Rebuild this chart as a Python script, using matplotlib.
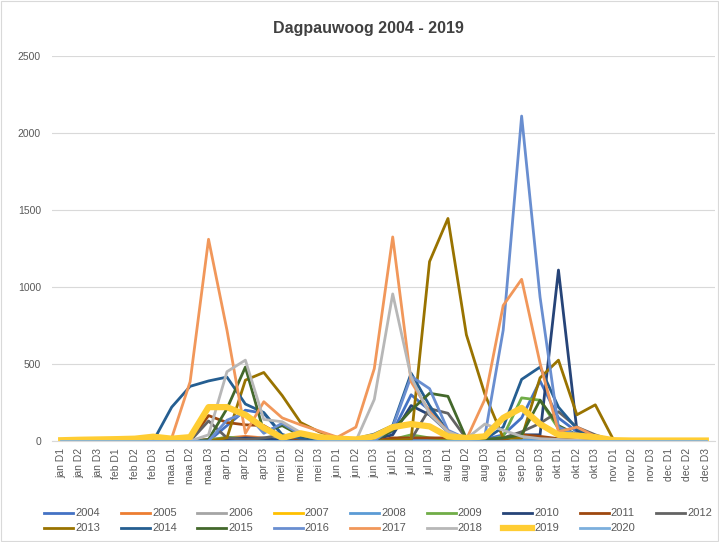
import matplotlib.pyplot as plt
from matplotlib.patches import Rectangle

plt.rcParams['font.family'] = ['Liberation Sans', 'DejaVu Sans']

# categories: three decades per month
months = ['jan', 'feb', 'maa', 'apr', 'mei', 'jun', 'jul', 'aug', 'sep', 'okt', 'nov', 'dec']
categories = [m + ' D' + str(d) for m in months for d in (1, 2, 3)]

#           jan       feb       maa            apr            mei           jun           jul             aug            sep             okt           nov      dec
y2004 = [0, 0, 0, 0, 0, 0, 0, 0, 0, 100, 200, 180, 40, 15, 5, 0, 0, 20, 60, 300, 200, 60, 10, 10, 40, 150, 390, 150, 60, 20, 0, 0, 0, 0, 0, 0]
y2005 = [0, 0, 0, 0, 0, 0, 0, 0, 10, 20, 30, 20, 10, 5, 0, 0, 0, 0, 10, 20, 15, 10, 5, 0, 10, 20, 20, 10, 5, 0, 0, 0, 0, 0, 0, 0]
y2006 = [0, 0, 0, 0, 0, 0, 0, 0, 5, 20, 15, 20, 10, 5, 0, 0, 0, 0, 5, 10, 10, 5, 0, 0, 5, 10, 10, 5, 0, 0, 0, 0, 0, 0, 0, 0]
y2007 = [0, 0, 0, 0, 0, 0, 0, 0, 5, 10, 10, 5, 5, 0, 0, 0, 0, 0, 5, 10, 5, 5, 0, 0, 5, 5, 5, 5, 0, 0, 0, 0, 0, 0, 0, 0]
y2008 = [0, 0, 0, 0, 0, 0, 0, 0, 0, 5, 5, 5, 0, 0, 0, 0, 0, 0, 0, 5, 5, 0, 0, 0, 0, 5, 5, 0, 0, 0, 0, 0, 0, 0, 0, 0]
y2009 = [0, 0, 0, 0, 0, 0, 0, 0, 5, 25, 15, 10, 5, 0, 0, 0, 0, 0, 10, 40, 20, 10, 5, 0, 30, 280, 265, 80, 30, 10, 0, 0, 0, 0, 0, 0]
y2010 = [0, 0, 0, 0, 0, 0, 0, 0, 0, 10, 20, 15, 5, 0, 0, 0, 0, 10, 40, 230, 170, 60, 0, 5, 10, 40, 40, 1110, 70, 20, 0, 0, 0, 0, 0, 0]
y2011 = [0, 0, 0, 0, 0, 0, 0, 0, 165, 120, 105, 100, 30, 10, 0, 0, 0, 0, 20, 20, 20, 20, 10, 5, 10, 40, 30, 15, 5, 0, 0, 0, 0, 0, 0, 0]
y2012 = [0, 0, 0, 0, 0, 0, 0, 0, 130, 20, 10, 20, 40, 15, 5, 0, 0, 0, 0, 10, 210, 180, 15, 10, 20, 60, 115, 190, 90, 40, 0, 0, 0, 0, 0, 0]
y2013 = [0, 0, 0, 0, 0, 0, 0, 0, 0, 20, 395, 445, 295, 120, 60, 20, 0, 0, 5, 10, 1165, 1445, 690, 305, 20, 20, 410, 525, 170, 235, 5, 0, 0, 0, 0, 0]
y2014 = [0, 0, 0, 0, 0, 0, 220, 355, 390, 415, 240, 185, 40, 20, 10, 5, 15, 45, 100, 440, 230, 60, 10, 10, 90, 400, 480, 220, 80, 20, 0, 0, 0, 0, 0, 0]
y2015 = [0, 0, 0, 0, 0, 0, 0, 0, 10, 210, 480, 60, 100, 35, 10, 0, 0, 0, 70, 200, 310, 290, 15, 10, 20, 40, 265, 100, 40, 10, 0, 0, 0, 0, 0, 0]
y2016 = [0, 0, 0, 0, 0, 0, 0, 0, 0, 135, 185, 50, 115, 40, 10, 0, 0, 0, 90, 420, 340, 70, 15, 30, 720, 2110, 935, 90, 40, 10, 0, 0, 0, 0, 0, 0]
y2017 = [0, 0, 0, 0, 0, 0, 20, 385, 1310, 720, 50, 255, 150, 105, 65, 25, 90, 470, 1325, 385, 190, 60, 10, 270, 880, 1050, 505, 60, 90, 30, 0, 0, 0, 0, 0, 0]
y2018 = [0, 0, 0, 0, 0, 0, 0, 0, 40, 450, 525, 140, 125, 55, 20, 0, 0, 270, 955, 415, 175, 60, 15, 110, 70, 30, 15, 10, 5, 0, 0, 0, 0, 0, 0, 0]
y2019 = [5, 8, 10, 12, 15, 28, 15, 25, 220, 220, 170, 85, 20, 50, 25, 15, 10, 30, 90, 110, 95, 30, 20, 30, 150, 215, 110, 40, 35, 25, 5, 3, 3, 3, 3, 3]
y2020 = [0] * 36

years = ['2004', '2005', '2006', '2007', '2008', '2009', '2010', '2011', '2012',
         '2013', '2014', '2015', '2016', '2017', '2018', '2019', '2020']
series = [y2004, y2005, y2006, y2007, y2008, y2009, y2010, y2011, y2012,
          y2013, y2014, y2015, y2016, y2017, y2018, y2019, y2020]
colors = ['#4472C4', '#ED7D31', '#A5A5A5', '#FFC000', '#5B9BD5', '#70AD47', '#264478', '#9E480E', '#636363',
          '#997300', '#255E91', '#43682B', '#698ED0', '#F1975A', '#B7B7B7', '#FFCD33', '#7CAFDD']

fig = plt.figure(figsize=(7.19, 5.42), dpi=100)
ax = fig.add_axes([52 / 719, 1 - 441 / 542, 663 / 719, 385 / 542])

x = list(range(len(categories)))
for year, vals, col in zip(years, series, colors):
    lw = 4.5 if year == '2019' else 2.0
    ax.plot(x, vals, color=col, linewidth=lw, label=year, solid_joinstyle='round')

ax.set_xlim(-0.5, len(categories) - 0.5)
ax.set_ylim(0, 2500)
ax.set_yticks([0, 500, 1000, 1500, 2000, 2500])
ax.set_xticks(x)
ax.set_xticklabels(categories, rotation=90)
ax.tick_params(axis='both', length=0, labelsize=7.5, labelcolor='#595959')
ax.tick_params(axis='x', pad=5)
ax.tick_params(axis='y', pad=8)
ax.grid(axis='y', color='#D9D9D9', linewidth=0.8)
ax.set_axisbelow(True)
for side in ['top', 'right', 'left']:
    ax.spines[side].set_visible(False)
ax.spines['bottom'].set_color('#D9D9D9')

fig.text(0.512, 1 - 28 / 542, 'Dagpauwoog 2004 - 2019', ha='center', va='center',
         fontsize=11.5, fontweight='bold', color='#404040')

# legend is filled column by column, so reorder to read row by row (9 per row)
handles, labels = ax.get_legend_handles_labels()
order = []
for c in range(9):
    order.append(c)
    if c + 9 < len(handles):
        order.append(c + 9)
fig.legend([handles[i] for i in order], [labels[i] for i in order], ncol=9, loc='upper left',
           bbox_to_anchor=(40 / 719, 1 - 504 / 542),
           frameon=False, fontsize=8, labelcolor='#595959', handlelength=2.6,
           handletextpad=0.2, columnspacing=1.85, labelspacing=0.45, borderaxespad=0)

fig.add_artist(Rectangle((0.002, 0.002), 0.996, 0.996, transform=fig.transFigure,
                         fill=False, edgecolor='#D9D9D9', linewidth=0.8))

fig.savefig('out.png', dpi=100)
